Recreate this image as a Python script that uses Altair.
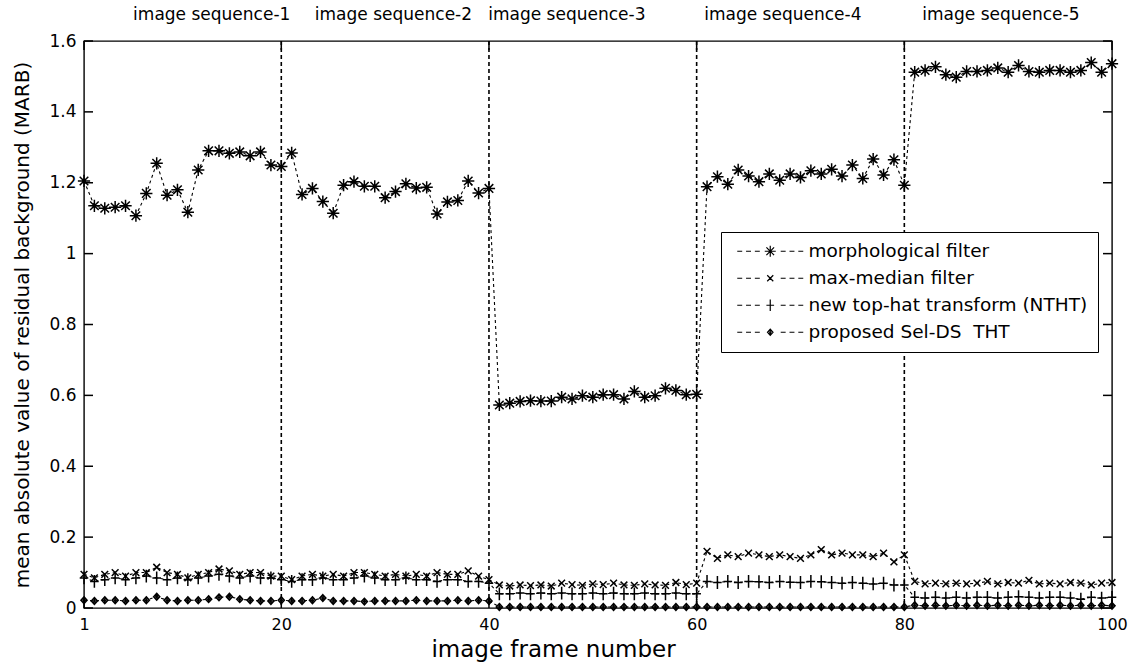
import altair as alt
import pandas as pd

frames = list(range(1, 101))
methods = ["morphological filter", "max-median filter",
           "new top-hat transform (NTHT)", "proposed Sel-DS\u00a0 THT"]

morph = [1.205, 1.135, 1.128, 1.131, 1.135, 1.107, 1.170, 1.255, 1.165, 1.180,
         1.117, 1.236, 1.290, 1.290, 1.283, 1.287, 1.276, 1.287, 1.250, 1.246,
         1.284, 1.167, 1.184, 1.147, 1.114, 1.193, 1.203, 1.190, 1.190, 1.158,
         1.175, 1.197, 1.185, 1.187, 1.112, 1.146, 1.150, 1.205, 1.171, 1.184,
         0.573, 0.578, 0.583, 0.585, 0.584, 0.584, 0.595, 0.590, 0.599, 0.595,
         0.602, 0.602, 0.590, 0.611, 0.595, 0.599, 0.620, 0.614, 0.602, 0.603,
         1.189, 1.217, 1.196, 1.236, 1.219, 1.203, 1.225, 1.207, 1.225, 1.215,
         1.234, 1.225, 1.238, 1.219, 1.250, 1.212, 1.267, 1.222, 1.265, 1.193,
         1.512, 1.517, 1.527, 1.505, 1.498, 1.514, 1.514, 1.517, 1.524, 1.512,
         1.531, 1.514, 1.512, 1.517, 1.517, 1.512, 1.517, 1.539, 1.512, 1.536]

maxmed = [0.095, 0.085, 0.095, 0.100, 0.090, 0.100, 0.100, 0.115, 0.100, 0.095,
          0.085, 0.095, 0.100, 0.110, 0.105, 0.095, 0.100, 0.100, 0.090, 0.090,
          0.080, 0.090, 0.095, 0.090, 0.095, 0.090, 0.100, 0.100, 0.095, 0.090,
          0.095, 0.090, 0.095, 0.090, 0.100, 0.095, 0.095, 0.105, 0.090, 0.080,
          0.065, 0.062, 0.065, 0.063, 0.065, 0.062, 0.070, 0.066, 0.064, 0.068,
          0.066, 0.070, 0.065, 0.064, 0.068, 0.065, 0.064, 0.072, 0.066, 0.070,
          0.160, 0.140, 0.150, 0.145, 0.155, 0.150, 0.145, 0.150, 0.145, 0.140,
          0.150, 0.165, 0.150, 0.155, 0.150, 0.150, 0.145, 0.155, 0.130, 0.150,
          0.075, 0.068, 0.070, 0.068, 0.070, 0.068, 0.070, 0.075, 0.068, 0.072,
          0.070, 0.078, 0.068, 0.070, 0.068, 0.072, 0.070, 0.065, 0.070, 0.072]

ntht = [0.085, 0.075, 0.080, 0.085, 0.080, 0.085, 0.090, 0.085, 0.080, 0.085,
        0.080, 0.085, 0.090, 0.095, 0.090, 0.085, 0.090, 0.085, 0.085, 0.080,
        0.075, 0.080, 0.080, 0.085, 0.080, 0.080, 0.085, 0.090, 0.085, 0.080,
        0.080, 0.085, 0.080, 0.080, 0.075, 0.080, 0.080, 0.075, 0.075, 0.070,
        0.040, 0.040, 0.042, 0.040, 0.042, 0.040, 0.042, 0.040, 0.040, 0.042,
        0.040, 0.042, 0.040, 0.040, 0.042, 0.040, 0.040, 0.042, 0.040, 0.040,
        0.075, 0.072, 0.075, 0.072, 0.075, 0.074, 0.072, 0.075, 0.073, 0.072,
        0.075, 0.074, 0.072, 0.070, 0.072, 0.070, 0.068, 0.070, 0.065, 0.065,
        0.030, 0.028, 0.030, 0.028, 0.030, 0.028, 0.030, 0.030, 0.028, 0.030,
        0.032, 0.030, 0.028, 0.030, 0.030, 0.028, 0.025, 0.030, 0.028, 0.030]

selds = [0.022, 0.020, 0.022, 0.022, 0.020, 0.022, 0.022, 0.032, 0.022, 0.020,
         0.022, 0.022, 0.025, 0.030, 0.032, 0.025, 0.022, 0.020, 0.020, 0.022,
         0.020, 0.020, 0.022, 0.028, 0.020, 0.020, 0.020, 0.018, 0.020, 0.020,
         0.020, 0.020, 0.022, 0.020, 0.020, 0.020, 0.022, 0.020, 0.022, 0.020,
         0.003, 0.003, 0.003, 0.003, 0.003, 0.003, 0.003, 0.003, 0.003, 0.003,
         0.003, 0.003, 0.003, 0.003, 0.003, 0.003, 0.003, 0.003, 0.003, 0.003,
         0.003, 0.003, 0.003, 0.003, 0.003, 0.003, 0.003, 0.003, 0.003, 0.003,
         0.003, 0.003, 0.003, 0.003, 0.003, 0.003, 0.003, 0.003, 0.003, 0.003,
         0.008, 0.006, 0.008, 0.006, 0.008, 0.006, 0.008, 0.006, 0.008, 0.006,
         0.008, 0.006, 0.008, 0.006, 0.008, 0.006, 0.008, 0.006, 0.008, 0.006]

seq_labels = ["image sequence-1", "image sequence-2", "image sequence-3",
              "image sequence-4", "image sequence-5"]
seq_label_x = [13.3, 30.8, 47.5, 68.3, 89.3]
dividers = [20, 40, 60, 80]
x_ticks = [1, 20, 40, 60, 80, 100]
y_ticks = [0, 0.2, 0.4, 0.6, 0.8, 1.0, 1.2, 1.4, 1.6]

# marker shapes (unit paths)
star = "M-1,0L1,0M0,-1L0,1M-0.7,-0.7L0.7,0.7M-0.7,0.7L0.7,-0.7"
xmark = "M-0.55,-0.55L0.55,0.55M-0.55,0.55L0.55,-0.55"
plus = "M-0.7,0L0.7,0M0,-1.05L0,1.05"
diam = "M0,-0.55L0.5,0L0,0.55L-0.5,0ZM-0.25,0L0.25,0M0,-0.3L0,0.3"
markers = [star, xmark, plus, diam]
dash = "M-6,0L-5.1,0M-4.4,0L-3.5,0M-2.8,0L-1.9,0M1.9,0L2.8,0M3.5,0L4.4,0M5.1,0L6,0"
legend_markers = [dash + m for m in markers]

W, H = 1028, 567
FONT = "DejaVu Sans"

rows = []
for name, vals in zip(methods, [morph, maxmed, ntht, selds]):
    for f, v in zip(frames, vals):
        rows.append({"frame": f, "value": v, "method": name})
df = pd.DataFrame(rows)

xs = alt.Scale(domain=[1, 100], nice=False, zero=False)
ys = alt.Scale(domain=[0, 1.6], nice=False)

xenc = alt.X("frame:Q", scale=xs,
             axis=alt.Axis(values=x_ticks, title="image frame number", ticks=False,
                           domain=False, grid=False, labelFontSize=16, labelPadding=8,
                           titleFontSize=23, titleFontWeight="normal", titlePadding=6,
                           titleX=469, titleAnchor="middle",
                           labelFont=FONT, titleFont=FONT, labelColor="black",
                           titleColor="black", labelFlush=False))
yenc = alt.Y("value:Q", scale=ys,
             axis=alt.Axis(values=y_ticks, format="~g", ticks=False, domain=False, grid=False,
                           title="mean absolute value of residual background (MARB)",
                           labelFontSize=17, labelPadding=8, titleFontSize=20,
                           titleFontWeight="normal", titlePadding=16, labelFont=FONT,
                           titleFont=FONT, labelColor="black", titleColor="black",
                           labelFlush=False))

base = alt.Chart(df)

lines = base.mark_line(color="black", strokeWidth=1.1, strokeDash=[3, 3]).encode(
    x=xenc, y=yenc, detail="method:N", order="frame:Q")

points = base.mark_point(filled=False, color="black", strokeWidth=1.5, size=150, opacity=1).encode(
    x="frame:Q", y="value:Q",
    shape=alt.Shape("method:N", scale=alt.Scale(domain=methods, range=markers), legend=None))

legend_layer = base.transform_filter("false").mark_point(
    filled=False, color="black", strokeWidth=1.2, opacity=1).encode(
    x="frame:Q", y="value:Q",
    shape=alt.Shape("method:N", scale=alt.Scale(domain=methods, range=legend_markers),
                    legend=alt.Legend(title=None, orient="none", legendX=637, legendY=191,
                                      strokeColor="black", fillColor="white", padding=10,
                                      labelFont=FONT, labelFontSize=18.5, labelColor="black",
                                      rowPadding=8, symbolSize=121, symbolOffset=30,
                                      labelOffset=29, symbolStrokeWidth=1.2,
                                      symbolStrokeColor="black", labelLimit=400)))

div_df = pd.DataFrame({"frame": dividers})
divs = alt.Chart(div_df).mark_rule(color="black", strokeWidth=1.6, strokeDash=[4, 3]).encode(
    x=alt.X("frame:Q", scale=xs))

lab_df = pd.DataFrame({"frame": seq_label_x, "label": seq_labels})
labels = alt.Chart(lab_df).mark_text(fontSize=17, font=FONT, color="black",
                                     baseline="middle", align="center").encode(
    x=alt.X("frame:Q", scale=xs), y=alt.value(-26), text="label:N")

yt_df = pd.DataFrame({"value": y_ticks})
xt_df = pd.DataFrame({"frame": x_ticks})
tick_style = dict(color="black", strokeWidth=1.5)
ytick_l = alt.Chart(yt_df).mark_rule(**tick_style).encode(
    y=alt.Y("value:Q", scale=ys), x=alt.value(0), x2=alt.value(9))
ytick_r = alt.Chart(yt_df).mark_rule(**tick_style).encode(
    y=alt.Y("value:Q", scale=ys), x=alt.value(W - 9), x2=alt.value(W))
xtick_b = alt.Chart(xt_df).mark_rule(**tick_style).encode(
    x=alt.X("frame:Q", scale=xs), y=alt.value(H - 9), y2=alt.value(H))
xtick_t = alt.Chart(xt_df).mark_rule(**tick_style).encode(
    x=alt.X("frame:Q", scale=xs), y=alt.value(0), y2=alt.value(9))

chart = alt.layer(divs, ytick_l, ytick_r, xtick_b, xtick_t, lines, points,
                  legend_layer, labels).resolve_scale(shape="independent").properties(
    width=W, height=H,
    autosize=alt.AutoSizeParams(type="none"),
    padding={"left": 84, "top": 41, "right": 24, "bottom": 63},
    background="white",
).configure_view(stroke="black", strokeWidth=1.4)

chart.save("out.html", embed_options={"renderer": "svg", "actions": False})
